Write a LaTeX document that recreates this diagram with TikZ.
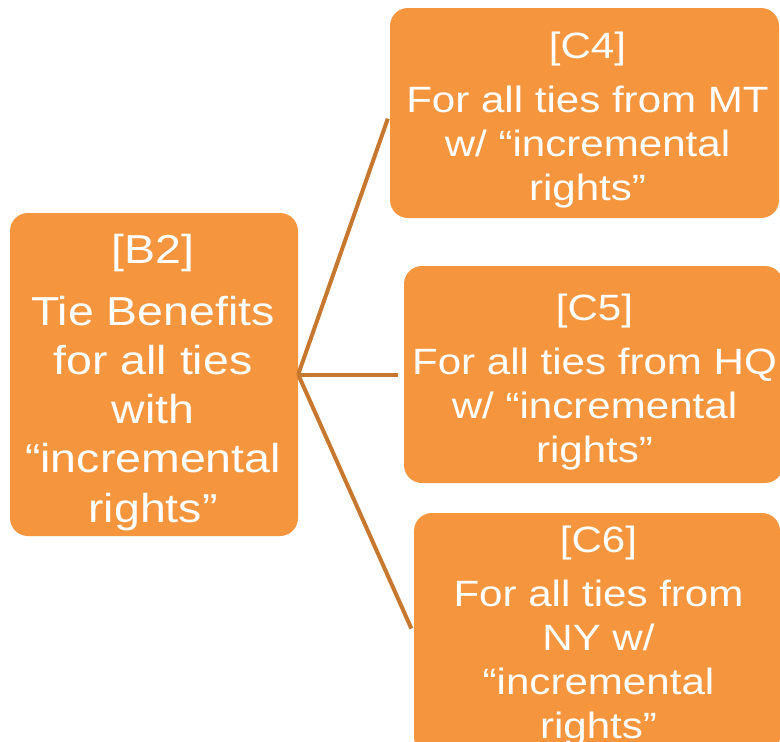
\documentclass[tikz,border=0pt]{standalone}
\usepackage{fontspec}
\setmainfont[FakeStretch=1.15]{Liberation Sans}
\definecolor{boxorange}{HTML}{F5963F}
\definecolor{linkbrown}{HTML}{C8782E}
\newcommand{\bigtext}{\fontsize{40.4}{49.3}\selectfont}
\newcommand{\smalltext}{\fontsize{36.6}{44}\selectfont}

\begin{document}
\begin{tikzpicture}[x=1pt,y=-1pt,
    box/.style={rectangle, rounded corners=18pt, fill=boxorange, inner sep=0pt},
    boxtext/.style={anchor=north, align=center, text=white, inner sep=0pt},
    link/.style={draw=linkbrown, line width=4pt, shorten >=6pt}]
  \useasboundingbox (0,0) rectangle (780,742);
  \clip (0,0) rectangle (780,742);

  % boxes
  \node[box, minimum width=288pt, minimum height=323pt] (b2) at (154,374.5) {};
  \node[box, minimum width=389pt, minimum height=210pt] (c4) at (584.5,113) {};
  \node[box, minimum width=379pt, minimum height=217pt] (c5) at (593.5,374.5) {};
  \node[box, minimum width=366pt, minimum height=242pt] (c6) at (597,634) {};

  % texts
  \node[boxtext, font=\bigtext] (b2-txt) at (153,233.6)
    {[B2]\\[12.7pt] Tie Benefits\\ for all ties\\ with\\ “incremental\\ rights”};
  \node[boxtext, font=\smalltext] (c4-txt) at (587.5,31.4)
    {[C4]\\[10pt] For all ties from MT\\ w/ “incremental\\ rights”};
  \node[boxtext, font=\smalltext] (c5-txt) at (594.5,293.4)
    {[C5]\\[10pt] For all ties from HQ\\ w/ “incremental\\ rights”};
  \node[boxtext, font=\smalltext] (c6-txt) at (598.5,525.4)
    {[C6]\\[10pt] For all ties from\\ NY w/\\ “incremental\\ rights”};

  % connectors
  \draw[link] (b2.east) -- (c4.west);
  \draw[link] (b2.east) -- (c5.west);
  \draw[link] (b2.east) -- (c6.west);
\end{tikzpicture}
\end{document}
